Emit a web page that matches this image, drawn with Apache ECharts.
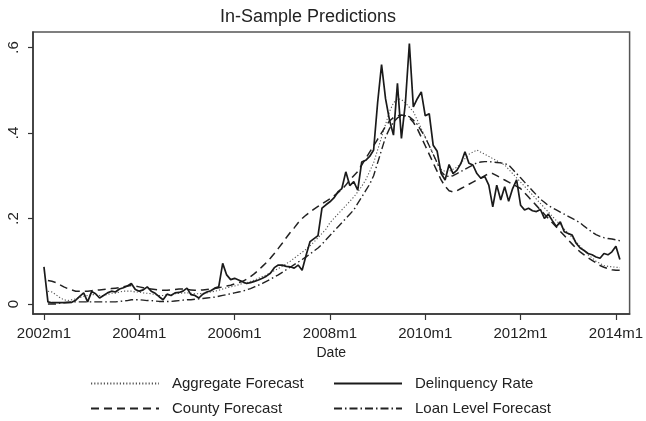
<!DOCTYPE html>
<html>
<head>
<meta charset="utf-8">
<script src="https://cdn.jsdelivr.net/npm/echarts@6/dist/echarts.min.js"></script>
<style>
  html, body { margin: 0; padding: 0; background: #fff; }
  #chart { width: 646px; height: 421px; }
</style>
</head>
<body>
<div id="chart"></div>
<script>
  // monthly, 2002m1 .. 2014m2 (index 0 = 2002m1)
  const delinquency = [
    0.087, 0.005, 0.003, 0.003, 0.003, 0.003, 0.003, 0.004, 0.009, 0.018, 0.026, 0.005,
    0.029, 0.024, 0.014, 0.020, 0.026, 0.030, 0.028, 0.035, 0.038, 0.042, 0.048, 0.034,
    0.030, 0.033, 0.040, 0.030, 0.025, 0.017, 0.010, 0.023, 0.020, 0.026, 0.027, 0.030,
    0.037, 0.022, 0.020, 0.014, 0.023, 0.028, 0.031, 0.037, 0.040, 0.095, 0.068, 0.057,
    0.060, 0.056, 0.052, 0.048, 0.050, 0.053, 0.056, 0.060, 0.065, 0.072, 0.085, 0.091,
    0.091, 0.088, 0.087, 0.084, 0.091, 0.079, 0.114, 0.146, 0.153, 0.160, 0.224, 0.232,
    0.239, 0.248, 0.262, 0.270, 0.309, 0.277, 0.286, 0.266, 0.332, 0.336, 0.345, 0.360,
    0.470, 0.560, 0.480, 0.430, 0.395, 0.516, 0.387, 0.470, 0.609, 0.461, 0.480, 0.496,
    0.440, 0.445, 0.371, 0.357, 0.305, 0.290, 0.326, 0.305, 0.313, 0.329, 0.356, 0.329,
    0.325, 0.305, 0.294, 0.298, 0.278, 0.227, 0.278, 0.243, 0.274, 0.240, 0.270, 0.290,
    0.231, 0.220, 0.224, 0.218, 0.216, 0.221, 0.200, 0.210, 0.195, 0.181, 0.192, 0.169,
    0.165, 0.161, 0.142, 0.131, 0.125, 0.118, 0.115, 0.110, 0.107, 0.118, 0.115, 0.122,
    0.135, 0.104
  ];
  const aggregate = [
    null,
    0.030, 0.028, 0.022, 0.015, 0.010, 0.008, 0.010, 0.012, 0.015, 0.018, 0.020, 0.022,
    0.022, 0.020, 0.020, 0.022, 0.025, 0.025, 0.028, 0.030, 0.030, 0.030, 0.028, 0.028,
    0.026, 0.025, 0.024, 0.022, 0.020, 0.020, 0.022, 0.022, 0.024, 0.025, 0.026, 0.026,
    0.025, 0.024, 0.024, 0.025, 0.026, 0.028, 0.030, 0.032, 0.035, 0.038, 0.040, 0.042,
    0.045, 0.048, 0.050, 0.053, 0.056, 0.060, 0.064, 0.068, 0.073, 0.078, 0.083, 0.088,
    0.094, 0.100, 0.107, 0.114, 0.121, 0.128, 0.136, 0.145, 0.155, 0.165, 0.175, 0.190,
    0.200, 0.210, 0.220, 0.230, 0.240, 0.250, 0.262, 0.275, 0.290, 0.310, 0.330, 0.360,
    0.390, 0.420, 0.450, 0.470, 0.480, 0.478, 0.470, 0.460, 0.450, 0.430, 0.410, 0.390,
    0.370, 0.350, 0.330, 0.315, 0.310, 0.310, 0.315, 0.320, 0.330, 0.340, 0.350, 0.355,
    0.360, 0.355, 0.350, 0.345, 0.340, 0.335, 0.330, 0.325, 0.315, 0.305, 0.295, 0.285,
    0.275, 0.265, 0.255, 0.245, 0.235, 0.225, 0.215, 0.205, 0.195, 0.185, 0.175, 0.165,
    0.155, 0.145, 0.135, 0.125, 0.115, 0.108, 0.100, 0.095, 0.090, 0.088, 0.087, 0.086,
    0.085
  ];
  const county = [
    null,
    0.055, 0.053, 0.050, 0.045, 0.040, 0.036, 0.033, 0.030, 0.030, 0.030, 0.030, 0.031,
    0.032, 0.033, 0.034, 0.035, 0.036, 0.037, 0.038, 0.040, 0.042, 0.043, 0.042, 0.040,
    0.038, 0.036, 0.035, 0.034, 0.033, 0.032, 0.032, 0.033, 0.034, 0.035, 0.035, 0.034,
    0.033, 0.032, 0.032, 0.033, 0.034, 0.035, 0.036, 0.038, 0.040, 0.042, 0.044, 0.047,
    0.050, 0.053, 0.058, 0.064, 0.071, 0.079, 0.088, 0.097, 0.107, 0.118, 0.130, 0.142,
    0.155, 0.167, 0.178, 0.190, 0.200, 0.208, 0.215, 0.222, 0.228, 0.234, 0.240, 0.246,
    0.253, 0.260, 0.268, 0.278, 0.290, 0.300, 0.310, 0.325, 0.340, 0.355, 0.370, 0.385,
    0.400, 0.415, 0.428, 0.436, 0.440, 0.442, 0.440, 0.435, 0.425, 0.410, 0.390, 0.370,
    0.350, 0.330, 0.310, 0.290, 0.275, 0.265, 0.262, 0.265, 0.270, 0.275, 0.280, 0.285,
    0.290, 0.295, 0.300, 0.305, 0.305, 0.300, 0.295, 0.290, 0.285, 0.280, 0.275, 0.270,
    0.260, 0.250, 0.240, 0.230, 0.220, 0.210, 0.200, 0.190, 0.180, 0.170, 0.160, 0.150,
    0.140, 0.130, 0.122, 0.115, 0.108, 0.102, 0.096, 0.090, 0.086, 0.083, 0.080, 0.079,
    0.079
  ];
  const loanLevel = [
    null,
    0.000, 0.000, 0.000, 0.002, 0.003, 0.004, 0.005, 0.005, 0.005, 0.005, 0.005, 0.005,
    0.005, 0.005, 0.005, 0.005, 0.005, 0.005, 0.006, 0.007, 0.008, 0.010, 0.010, 0.010,
    0.009, 0.008, 0.008, 0.007, 0.006, 0.006, 0.006, 0.006, 0.007, 0.008, 0.009, 0.010,
    0.010, 0.011, 0.012, 0.013, 0.014, 0.015, 0.016, 0.018, 0.020, 0.022, 0.024, 0.026,
    0.028, 0.030, 0.033, 0.036, 0.040, 0.044, 0.048, 0.053, 0.058, 0.063, 0.068, 0.074,
    0.080, 0.086, 0.092, 0.098, 0.104, 0.110, 0.117, 0.124, 0.131, 0.140, 0.150, 0.160,
    0.170, 0.180, 0.190, 0.200, 0.210, 0.220, 0.235, 0.250, 0.265, 0.280, 0.300, 0.330,
    0.360, 0.390, 0.410, 0.425, 0.435, 0.440, 0.440, 0.438, 0.430, 0.420, 0.405, 0.390,
    0.370, 0.350, 0.330, 0.310, 0.300, 0.298, 0.300, 0.305, 0.310, 0.315, 0.320, 0.325,
    0.330, 0.332, 0.333, 0.333, 0.332, 0.331, 0.330, 0.328, 0.325, 0.315, 0.305, 0.295,
    0.285, 0.275, 0.265, 0.255, 0.245, 0.238, 0.230, 0.225, 0.220, 0.215, 0.210, 0.205,
    0.200, 0.195, 0.190, 0.182, 0.175, 0.168, 0.162, 0.158, 0.155, 0.153, 0.152, 0.150,
    0.148
  ];

  const xTickValues = [0, 24, 48, 72, 96, 120, 144];
  const xTickLabels = ['2002m1', '2004m1', '2006m1', '2008m1', '2010m1', '2012m1', '2014m1'];
  const yTickValues = [0, 0.2, 0.4, 0.6];
  const yTickLabels = ['0', '.2', '.4', '.6'];

  const FONT = '"Liberation Sans", Arial, sans-serif';
  const INK = '#222';

  // [month index, value] pairs
  function toPairs(arr) {
    return arr.map((v, i) => [i, v]);
  }

  // two-column legend, Stata style (line sample only, no marker)
  function legendBlock(left, names) {
    return {
      left: left,
      top: 376,
      height: 45,
      padding: 0,
      orient: 'vertical',
      selectedMode: false,
      itemWidth: 68,
      itemHeight: 14,
      itemGap: 10,
      itemStyle: { opacity: 0, borderWidth: 0 },
      textStyle: { fontFamily: FONT, fontSize: 15, color: INK, padding: [0, 0, 0, 8] },
      data: names
    };
  }

  const chart = echarts.init(document.getElementById('chart'));

  const option = {
    animation: false,
    backgroundColor: '#fff',
    textStyle: { fontFamily: FONT, color: INK },
    title: {
      text: 'In-Sample Predictions',
      left: 215,
      top: 3,
      textStyle: { fontFamily: FONT, fontSize: 18, fontWeight: 'normal', color: INK }
    },
    grid: {
      left: 33,
      right: 15,
      top: 32,
      bottom: 107,
      show: true,
      borderColor: '#555',
      borderWidth: 1.5,
      backgroundColor: '#fff'
    },
    legend: [
      legendBlock(90, ['Aggregate Forecast', 'County Forecast']),
      legendBlock(333, ['Delinquency Rate', 'Loan Level Forecast'])
    ],
    xAxis: {
      type: 'value',
      min: -2.76,
      max: 147.45,
      name: 'Date',
      nameLocation: 'middle',
      nameGap: 30,
      nameTextStyle: { fontFamily: FONT, fontSize: 14, color: INK },
      splitLine: { show: false },
      axisLine: { show: true, onZero: false, lineStyle: { color: '#333', width: 1.5 } },
      axisTick: { show: true, length: 6, customValues: xTickValues, lineStyle: { color: '#333', width: 1.2 } },
      axisLabel: {
        customValues: xTickValues,
        margin: 12,
        fontFamily: FONT,
        fontSize: 15,
        color: INK,
        formatter: v => xTickLabels[xTickValues.indexOf(v)]
      }
    },
    yAxis: {
      type: 'value',
      min: -0.0234,
      max: 0.636,
      splitLine: { show: false },
      axisLine: { show: true, onZero: false, lineStyle: { color: '#333', width: 1.5 } },
      axisTick: { show: true, length: 5, customValues: yTickValues, lineStyle: { color: '#333', width: 1.2 } },
      axisLabel: {
        customValues: yTickValues,
        rotate: 90,
        margin: 12,
        fontFamily: FONT,
        fontSize: 15,
        color: INK,
        formatter: v => yTickLabels[yTickValues.indexOf(v)]
      }
    },
    series: [
      {
        name: 'Aggregate Forecast',
        type: 'line',
        symbol: 'none',
        data: toPairs(aggregate),
        lineStyle: { color: '#555', width: 1.1, type: [1.2, 2] },
        itemStyle: { color: '#555' },
        z: 2
      },
      {
        name: 'County Forecast',
        type: 'line',
        symbol: 'none',
        data: toPairs(county),
        lineStyle: { color: '#222', width: 1.5, type: [8, 5] },
        itemStyle: { color: '#222' },
        z: 3
      },
      {
        name: 'Loan Level Forecast',
        type: 'line',
        symbol: 'none',
        data: toPairs(loanLevel),
        lineStyle: { color: '#222', width: 1.4, type: [8, 3, 1.5, 3] },
        itemStyle: { color: '#222' },
        z: 3
      },
      {
        name: 'Delinquency Rate',
        type: 'line',
        symbol: 'none',
        data: toPairs(delinquency),
        lineStyle: { color: '#1a1a1a', width: 1.7, type: 'solid' },
        itemStyle: { color: '#1a1a1a' },
        z: 4
      }
    ]
  };

  chart.setOption(option);
</script>
</body>
</html>
